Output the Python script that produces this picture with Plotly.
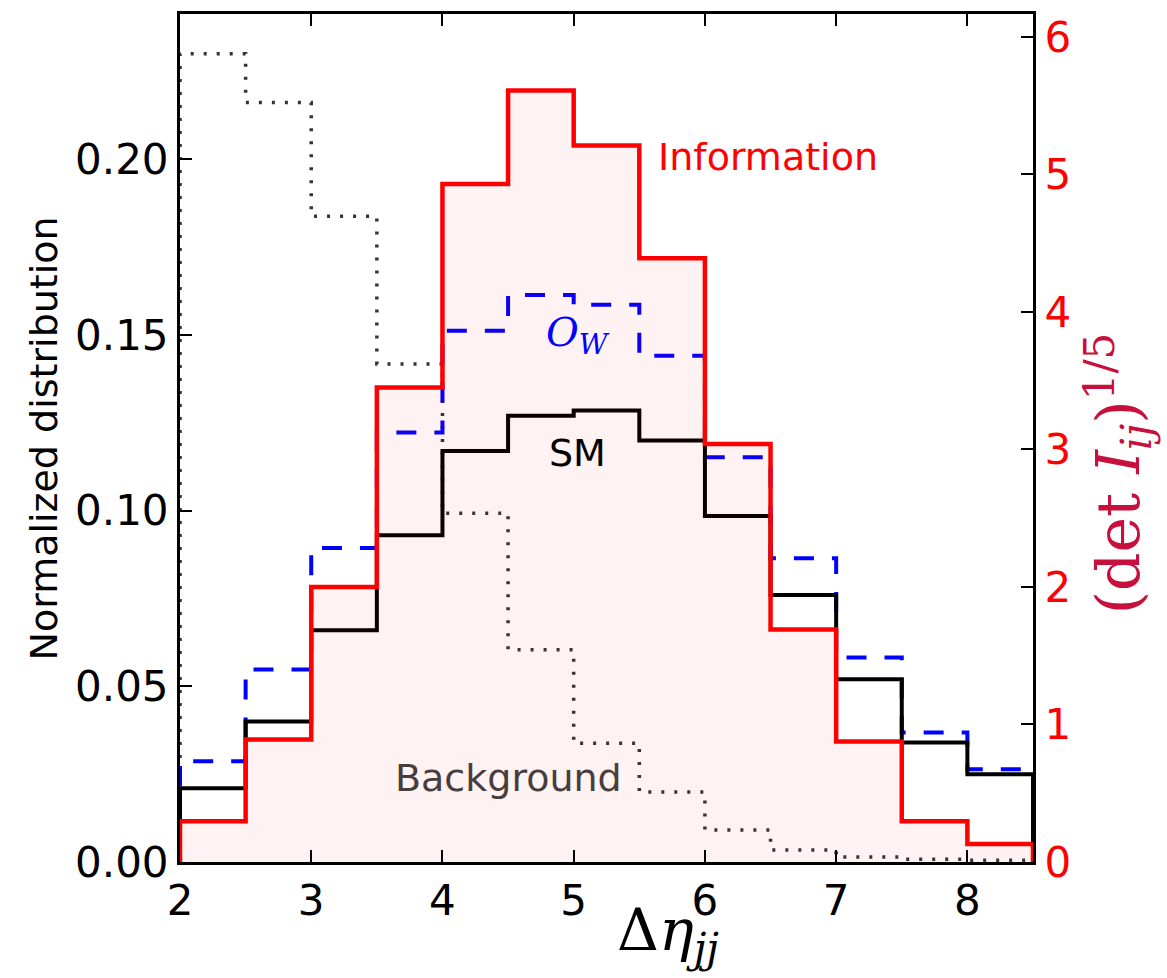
import plotly.graph_objects as go

# ---- data ----
bin_edges = [2.0, 2.5, 3.0, 3.5, 4.0, 4.5, 5.0, 5.5, 6.0, 6.5, 7.0, 7.5, 8.0, 8.5]
sm_vals = [0.021, 0.040, 0.066, 0.093, 0.117, 0.127, 0.1285, 0.120, 0.0985, 0.076, 0.052, 0.034, 0.025]
ow_vals = [0.0287, 0.0548, 0.0894, 0.1223, 0.1512, 0.1614, 0.1586, 0.1441, 0.1152, 0.0865, 0.0582, 0.0369, 0.0264]
bg_vals = [0.2301, 0.2162, 0.1838, 0.1418, 0.0993, 0.0604, 0.0338, 0.0199, 0.0091, 0.0034, 0.0014, 0.0008, 0.0005]
info_vals = [0.297, 0.891, 2.0, 3.45, 4.93, 5.61, 5.21, 4.39, 3.04, 1.69, 0.877, 0.297, 0.13]

x_ticks = [2, 3, 4, 5, 6, 7, 8]
y_ticks = [0.0, 0.05, 0.10, 0.15, 0.20]
y2_ticks = [0, 1, 2, 3, 4, 5, 6]


def step(vals):
    xs = [bin_edges[0]] + list(bin_edges[:-1]) + [bin_edges[-1], bin_edges[-1]]
    ys = [0] + list(vals) + [vals[-1], 0]
    return xs, ys


FONT = "DejaVu Sans"
W, H = 1167, 978
L, R, T, B = 180, 1033, 11, 862   # plot area in pixels

fig = go.Figure()

x, y = step(bg_vals)
fig.add_trace(go.Scatter(x=x, y=y, mode="lines", line_shape="hv",
                         line=dict(color="#333333", width=3.5, dash="3px,10px"),
                         showlegend=False, hoverinfo="skip"))
x, y = step(ow_vals)
fig.add_trace(go.Scatter(x=x, y=y, mode="lines", line_shape="hv",
                         line=dict(color="#0000ff", width=4, dash="20px,18px"),
                         showlegend=False, hoverinfo="skip"))
x, y = step(sm_vals)
fig.add_trace(go.Scatter(x=x, y=y, mode="lines", line_shape="hv",
                         line=dict(color="#000000", width=4),
                         showlegend=False, hoverinfo="skip"))
x, y = step(info_vals)
fig.add_trace(go.Scatter(x=x, y=y, mode="lines", line_shape="hv", yaxis="y2",
                         fill="tozeroy", fillcolor="rgba(255,0,0,0.05)",
                         line=dict(color="#ff0000", width=4.5),
                         showlegend=False, hoverinfo="skip"))

axis_common = dict(showgrid=False, zeroline=False, showline=True, linecolor="black",
                   linewidth=3, ticks="inside", ticklen=12, tickwidth=1.5, tickcolor="black")
TICK = 42
fig.update_layout(
    width=W, height=H,
    margin=dict(l=L, r=W - R, t=T, b=H - B),
    paper_bgcolor="white", plot_bgcolor="white",
    font=dict(family=FONT, size=TICK, color="black"),
    xaxis=dict(range=[2, 8.5], tickvals=x_ticks, ticktext=[str(v) for v in x_ticks],
               mirror="ticks", tickfont=dict(size=TICK, color="black"), **axis_common),
    yaxis=dict(range=[0, 0.2414], tickvals=y_ticks, ticktext=["%.2f" % v for v in y_ticks],
               tickfont=dict(size=TICK, color="black"), **axis_common),
    yaxis2=dict(range=[0, 6.167], overlaying="y", side="right", tickvals=y2_ticks,
                ticktext=[str(v) for v in y2_ticks], tickfont=dict(size=TICK, color="#ff0000"),
                **axis_common),
)

annotations = [
    dict(text="Information", x=768, y=155, font=dict(size=38, color="#ff0000", family=FONT)),
    dict(text="<i>O</i><sub><i>W</i></sub>", x=578, y=333,
         font=dict(size=40, color="#0000ff", family="DejaVu Serif")),
    dict(text="SM", x=577, y=452, font=dict(size=38, color="black", family=FONT)),
    dict(text="Background", x=508, y=778, font=dict(size=38, color="#473d3d", family=FONT)),
    dict(text="Normalized distribution", x=44, y=437, textangle=-90,
         font=dict(size=38, color="black", family=FONT)),
    dict(text="Δ<i>η</i><sub><i>jj</i></sub>", x=668, y=934,
         font=dict(size=58, color="black", family="DejaVu Serif")),
    dict(text="(det <i>I</i><sub><i>ij</i></sub>)<sup>1/5</sup>", x=1118, y=472, textangle=-90,
         font=dict(size=60, color="#c8103c", family="DejaVu Serif")),
]
for a in annotations:
    fig.add_annotation(text=a["text"], x=(a["x"] - L) / (R - L), y=(B - a["y"]) / (B - T),
                       xref="paper", yref="paper",
                       xanchor="center", yanchor="middle", showarrow=False,
                       textangle=a.get("textangle", 0), font=a["font"])

fig.write_html("out.html")
